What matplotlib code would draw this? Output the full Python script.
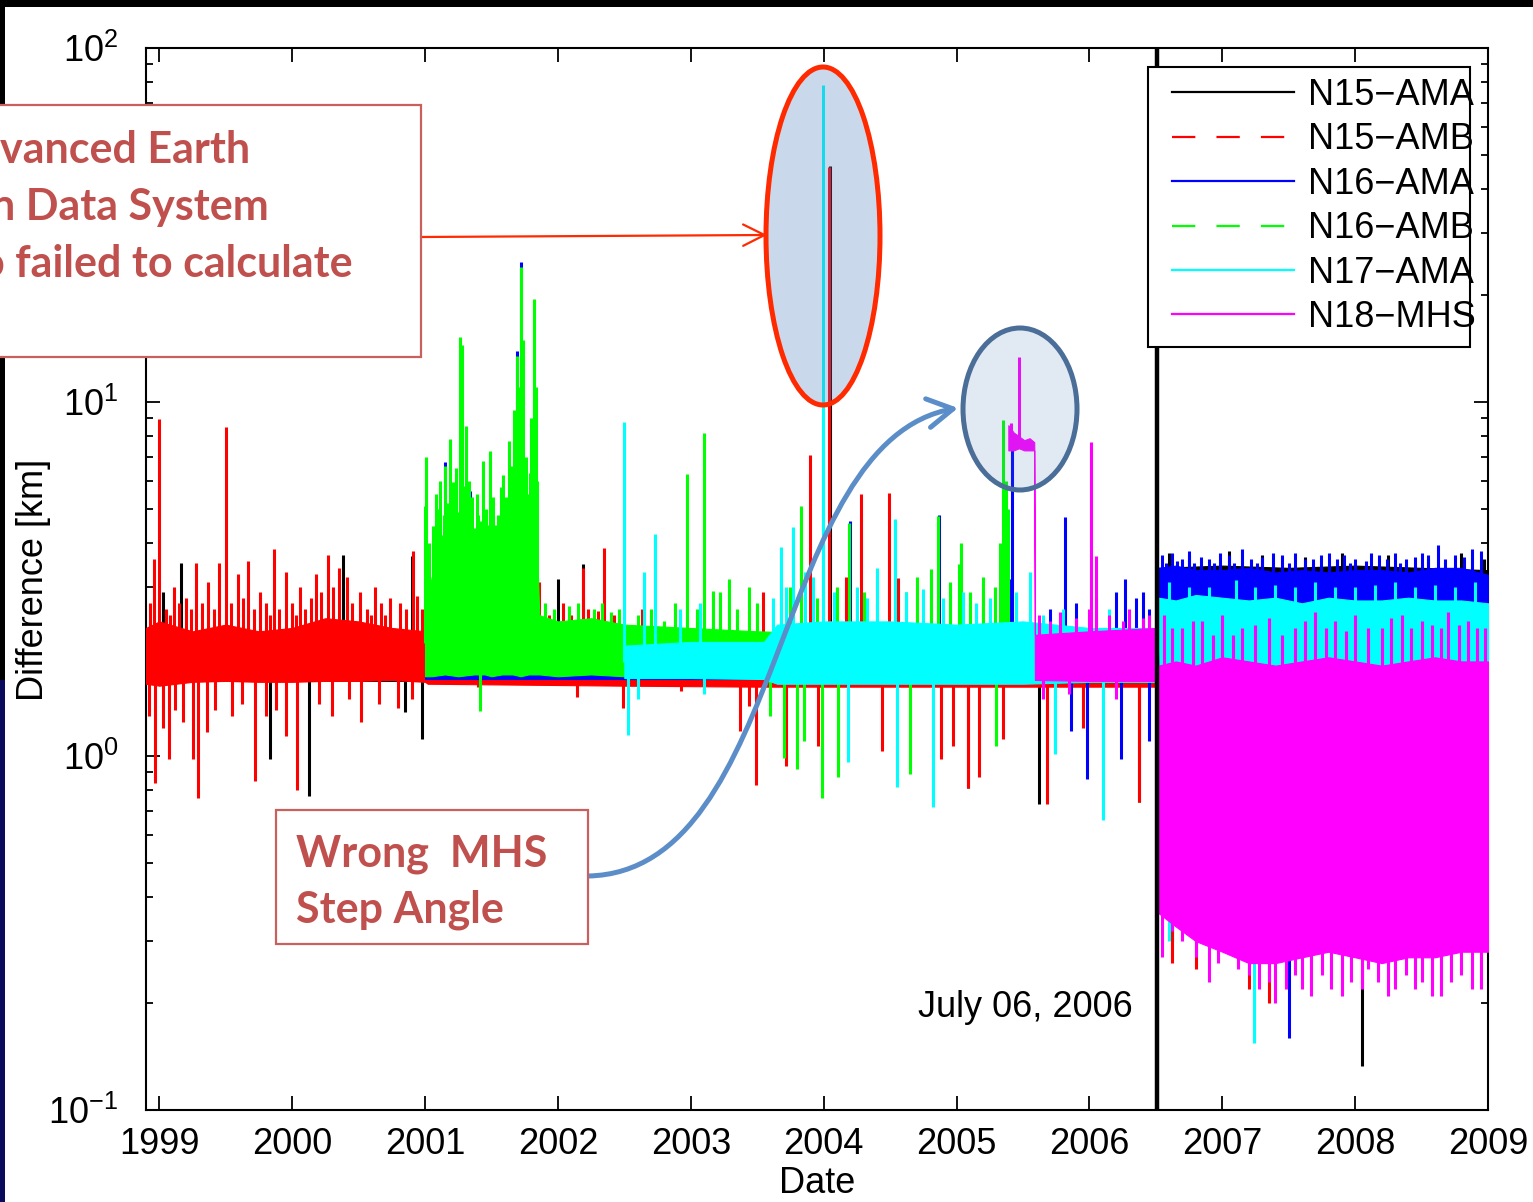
import numpy as np
import matplotlib
matplotlib.use("Agg")
import matplotlib.pyplot as plt
from matplotlib.patches import Ellipse, Rectangle, FancyArrowPatch
from matplotlib.path import Path
from matplotlib.lines import Line2D
from matplotlib.ticker import NullFormatter, LogLocator

plt.rcParams['font.family'] = ['Liberation Sans', 'DejaVu Sans']
plt.rcParams['mathtext.fontset'] = 'custom'
plt.rcParams['mathtext.rm'] = 'Liberation Sans'
plt.rcParams['mathtext.it'] = 'Liberation Sans:italic'
plt.rcParams['mathtext.bf'] = 'Liberation Sans:bold'

# ---------------- data ----------------
years = [1999, 2000, 2001, 2002, 2003, 2004, 2005, 2006, 2007, 2008, 2009]
year_labels = [str(y) for y in years]
event_date = 2006.51          # July 06, 2006
series_names = ['N15\u2212AMA', 'N15\u2212AMB', 'N16\u2212AMA', 'N16\u2212AMB', 'N17\u2212AMA', 'N18\u2212MHS']

# N15-AMA (black)
n15a_t  = [1998.90, 2006.51, 2006.52, 2007.00, 2007.50, 2008.00, 2008.50, 2009.00]
n15a_lo = [1.63, 1.63, 0.45, 0.45, 0.45, 0.45, 0.45, 0.45]
n15a_hi = [2.20, 2.20, 3.40, 3.45, 3.40, 3.45, 3.40, 3.35]
n15a_spikes = [(1999.03, 2.9), (1999.16, 3.5), (2000.38, 3.7), (2000.90, 3.67), (2002.00, 3.16),
               (2002.19, 3.48), (2004.045, 46.4), (1999.83, 0.98), (2000.13, 0.77), (2000.85, 1.33),
               (2000.98, 1.12), (2005.09, 0.81), (2005.62, 0.73), (2006.37, 0.74),
               (2006.60, 3.75), (2006.75, 3.7), (2007.05, 3.8), (2007.30, 3.7), (2007.62, 3.65),
               (2007.90, 3.75), (2008.25, 3.7), (2008.55, 3.6), (2008.80, 3.75), (2008.97, 3.6),
               (2008.05, 0.133), (2006.62, 0.30)]

# N15-AMB (red)
n15b_t  = [1998.90, 1999.00, 1999.25, 1999.50, 1999.75, 2000.00, 2000.25, 2000.50, 2000.75,
           2001.00, 2001.02, 2002.50, 2003.50, 2004.50, 2005.50, 2006.51, 2006.52, 2009.00]
n15b_lo = [1.60, 1.58, 1.62, 1.63, 1.62, 1.62, 1.63, 1.63, 1.64, 1.62, 1.60, 1.58, 1.57, 1.57,
           1.57, 1.57, 0.45, 0.45]
n15b_hi = [2.30, 2.40, 2.25, 2.35, 2.25, 2.30, 2.45, 2.40, 2.30, 2.25, 2.00, 2.00, 2.00, 2.00,
           2.00, 2.00, 2.00, 2.00]
n15b_spikes = [(1998.93, 2.7), (1998.96, 3.6), (1999.00, 8.95), (1999.05, 2.6), (1999.08, 2.5),
               (1999.11, 3.0), (1999.15, 2.7), (1999.20, 2.8), (1999.24, 2.6), (1999.28, 3.5),
               (1999.32, 2.7), (1999.37, 3.1), (1999.41, 2.6), (1999.45, 3.5), (1999.50, 8.5),
               (1999.54, 2.7), (1999.59, 3.26), (1999.63, 2.8), (1999.67, 3.55), (1999.71, 2.6),
               (1999.76, 2.9), (1999.80, 2.7), (1999.83, 2.5), (1999.86, 3.84), (1999.90, 2.6),
               (1999.95, 3.3), (2000.00, 2.7), (2000.03, 2.5), (2000.06, 3.0), (2000.10, 2.6),
               (2000.14, 2.8), (2000.18, 3.26), (2000.22, 2.9), (2000.27, 3.7), (2000.31, 3.0),
               (2000.35, 3.4), (2000.41, 3.2), (2000.45, 2.7), (2000.51, 2.9), (2000.56, 2.6),
               (2000.59, 2.5), (2000.62, 3.0), (2000.67, 2.7), (2000.70, 2.5), (2000.74, 2.8),
               (2000.81, 2.7), (2000.86, 2.6), (2000.91, 3.8), (2000.94, 2.83), (2000.98, 2.6),
               (2001.86, 3.1), (2001.93, 2.5), (2002.04, 2.7), (2002.10, 2.5), (2002.19, 3.4),
               (2002.23, 2.6), (2002.30, 2.56), (2002.35, 3.86), (2002.42, 2.5), (2002.63, 2.6),
               (2003.54, 2.9), (2003.90, 7.07), (2004.04, 46.0), (2004.17, 3.2), (2004.28, 5.5),
               (2004.49, 5.55), (2004.56, 3.18), (2004.70, 2.8), (2005.20, 2.9),
               (1998.92, 1.3), (1998.97, 0.84), (1999.03, 1.2), (1999.07, 0.98), (1999.12, 1.35),
               (1999.18, 1.25), (1999.25, 0.98), (1999.29, 0.76), (1999.36, 1.17), (1999.42, 1.35),
               (1999.55, 1.3), (1999.62, 1.4), (1999.72, 0.85), (1999.80, 1.3), (1999.88, 1.35),
               (1999.95, 1.14), (2000.04, 0.8), (2000.20, 1.4), (2000.30, 1.3), (2000.43, 1.45),
               (2000.52, 1.25), (2000.65, 1.4), (2000.80, 1.37), (2000.90, 1.45), (2001.40, 1.57),
               (2002.14, 1.47), (2002.49, 1.37), (2002.93, 1.53), (2003.37, 1.18), (2003.44, 1.38),
               (2003.49, 0.83), (2003.72, 0.94), (2003.96, 1.07), (2004.44, 1.03), (2004.88, 0.98),
               (2004.97, 1.07), (2005.09, 0.81), (2005.17, 0.87), (2005.35, 1.12), (2005.68, 0.73),
               (2005.95, 1.2), (2006.37, 0.74), (2006.62, 0.26), (2006.80, 0.25), (2007.20, 0.22),
               (2007.35, 0.20)]

# N16-AMA (blue)
n16a_t  = [2001.00, 2006.51, 2006.52, 2006.65, 2006.80, 2007.00, 2007.20, 2007.40, 2007.60,
           2007.80, 2008.00, 2008.20, 2008.40, 2008.60, 2008.80, 2009.00]
n16a_lo = [1.65, 1.65, 0.45, 0.45, 0.45, 0.45, 0.45, 0.45, 0.45, 0.45, 0.45, 0.45, 0.45, 0.45,
           0.45, 0.45]
n16a_hi = [2.00, 2.00, 3.40, 3.45, 3.35, 3.35, 3.40, 3.30, 3.35, 3.30, 3.35, 3.35, 3.30, 3.40,
           3.40, 3.25]
n16a_spikes = [(2001.15, 6.75), (2001.34, 5.6), (2001.69, 13.9), (2001.725, 24.8), (2004.20, 4.6),
               (2004.865, 4.8), (2005.40, 3.16), (2005.42, 7.4), (2005.82, 4.73), (2005.70, 2.6),
               (2005.90, 2.7), (2006.05, 2.8), (2006.20, 2.9), (2006.27, 3.16), (2006.35, 2.8),
               (2006.40, 2.9), (2006.45, 2.6),
               (2005.86, 1.18), (2005.98, 0.86), (2006.24, 0.98), (2006.45, 1.1), (2007.50, 0.16),
               (2006.55, 3.7), (2006.58, 3.5), (2006.62, 3.75), (2006.66, 3.55), (2006.70, 3.6),
               (2006.75, 3.8), (2006.79, 3.5), (2006.84, 3.65), (2006.90, 3.6), (2006.94, 3.5),
               (2006.98, 3.75), (2007.05, 3.7), (2007.09, 3.5), (2007.15, 3.85), (2007.22, 3.6),
               (2007.26, 3.5), (2007.30, 3.65), (2007.38, 3.75), (2007.45, 3.7), (2007.50, 3.5),
               (2007.55, 3.75), (2007.62, 3.6), (2007.68, 3.6), (2007.74, 3.7), (2007.80, 3.75),
               (2007.86, 3.6), (2007.92, 3.7), (2007.96, 3.5), (2008.00, 3.6), (2008.08, 3.55),
               (2008.12, 3.75), (2008.18, 3.7), (2008.24, 3.6), (2008.30, 3.75), (2008.34, 3.5),
               (2008.38, 3.6), (2008.45, 3.65), (2008.50, 3.75), (2008.55, 3.7), (2008.62, 3.95),
               (2008.68, 3.6), (2008.75, 3.7), (2008.82, 3.65), (2008.88, 3.85), (2008.95, 3.8)]

# N16-AMB (green)
n16b_t  = [2001.00, 2001.05, 2001.15, 2001.25, 2001.37, 2001.45, 2001.50, 2001.58, 2001.66,
           2001.72, 2001.78, 2001.83, 2001.86, 2002.00, 2002.25, 2002.50, 2003.50, 2004.50,
           2005.50, 2006.51]
n16b_lo = [1.68, 1.68, 1.70, 1.68, 1.70, 1.70, 1.68, 1.70, 1.70, 1.68, 1.70, 1.70, 1.70, 1.68,
           1.70, 1.68, 1.66, 1.66, 1.66, 1.66]
n16b_hi = [2.6, 3.2, 4.0, 4.3, 3.6, 3.2, 3.9, 3.7, 4.6, 5.6, 4.2, 5.2, 2.5, 2.4, 2.45, 2.35,
           2.25, 2.2, 2.2, 2.2]
n16b_spikes = [(2001.00, 5.1), (2001.01, 7.0), (2001.03, 4.0), (2001.06, 4.46), (2001.08, 5.5),
               (2001.09, 5.0), (2001.11, 6.0), (2001.12, 4.2), (2001.14, 4.8), (2001.15, 6.6),
               (2001.17, 5.2), (2001.19, 7.85), (2001.21, 5.94), (2001.23, 6.5), (2001.24, 4.9),
               (2001.26, 15.3), (2001.28, 14.5), (2001.30, 5.8), (2001.31, 8.55), (2001.33, 6.0),
               (2001.35, 5.4), (2001.37, 4.4), (2001.39, 5.5), (2001.40, 4.8), (2001.42, 4.6),
               (2001.44, 6.8), (2001.46, 5.0), (2001.48, 4.5), (2001.49, 7.25), (2001.51, 5.4),
               (2001.53, 4.5), (2001.55, 4.8), (2001.57, 5.75), (2001.59, 6.2), (2001.61, 5.4),
               (2001.63, 7.75), (2001.65, 6.6), (2001.67, 9.5), (2001.69, 13.5), (2001.70, 8.0),
               (2001.71, 11.0), (2001.72, 24.0), (2001.74, 15.0), (2001.76, 7.0), (2001.78, 5.5),
               (2001.79, 6.3), (2001.80, 9.0), (2001.81, 7.5), (2001.82, 19.5), (2001.835, 11.0),
               (2001.845, 6.0),
               (2001.90, 2.7), (2001.97, 2.6), (2002.08, 2.65), (2002.15, 2.7), (2002.27, 2.6),
               (2002.33, 2.7), (2002.40, 2.55), (2002.46, 2.6), (2002.60, 2.5), (2002.70, 2.6),
               (2002.80, 2.4), (2002.88, 2.7), (2002.97, 6.25), (2003.05, 2.6), (2003.10, 8.2),
               (2003.17, 2.92), (2003.22, 2.9), (2003.29, 3.16), (2003.35, 2.6), (2003.44, 3.0),
               (2003.50, 2.7), (2003.68, 3.16), (2003.75, 3.0), (2003.83, 5.08), (2003.95, 2.8),
               (2004.10, 3.0), (2004.19, 4.55), (2004.30, 2.9), (2004.40, 3.1), (2004.62, 2.9),
               (2004.70, 3.2), (2004.81, 3.37), (2004.86, 4.75), (2004.95, 3.1), (2005.02, 3.48),
               (2005.03, 4.0), (2005.10, 2.9), (2005.20, 3.2), (2005.29, 3.0), (2005.33, 4.0),
               (2005.35, 8.9), (2005.37, 6.0), (2005.39, 5.0),
               (2001.41, 1.34), (2003.60, 1.3), (2003.70, 0.99), (2003.80, 0.92), (2003.85, 1.1),
               (2003.99, 0.76), (2004.11, 0.87), (2004.65, 0.89), (2005.30, 1.07)]

# N17-AMA (cyan)
n17a_t  = [2002.50, 2003.00, 2003.55, 2003.65, 2004.00, 2004.50, 2005.00, 2005.50, 2006.00,
           2006.51, 2006.52, 2006.65, 2006.80, 2007.00, 2007.20, 2007.40, 2007.60, 2007.80,
           2008.00, 2008.20, 2008.40, 2008.60, 2008.80, 2009.00]
n17a_lo = [1.66, 1.66, 1.65, 1.60, 1.60, 1.60, 1.60, 1.60, 1.62, 1.62, 0.40, 0.40, 0.40, 0.40,
           0.40, 0.40, 0.40, 0.40, 0.40, 0.40, 0.40, 0.40, 0.40, 0.40]
n17a_hi = [2.05, 2.10, 2.10, 2.35, 2.40, 2.40, 2.35, 2.40, 2.30, 2.30, 2.80, 2.75, 2.85, 2.80,
           2.75, 2.80, 2.70, 2.80, 2.75, 2.75, 2.80, 2.75, 2.75, 2.70]
n17a_spikes = [(2002.50, 8.8), (2002.65, 3.3), (2002.73, 4.23), (2002.92, 2.6), (2003.07, 2.7),
               (2003.62, 2.8), (2003.68, 3.9), (2003.72, 3.0), (2003.77, 4.43), (2003.86, 3.3),
               (2003.92, 3.2), (2003.995, 78.8), (2004.08, 2.9), (2004.25, 3.0), (2004.33, 2.8),
               (2004.40, 3.4), (2004.54, 4.67), (2004.62, 2.9), (2004.75, 2.96), (2004.90, 2.8),
               (2005.05, 2.9), (2005.15, 2.7), (2005.25, 2.8), (2005.45, 2.9), (2005.55, 3.3),
               (2005.65, 2.5), (2005.80, 2.6), (2006.15, 2.6), (2006.30, 2.5),
               (2006.60, 3.1), (2006.75, 3.0), (2006.90, 3.0), (2007.10, 3.15), (2007.25, 3.0),
               (2007.40, 3.05), (2007.55, 3.0), (2007.70, 3.1), (2007.85, 3.0), (2008.00, 3.0),
               (2008.15, 3.05), (2008.30, 3.1), (2008.45, 3.0), (2008.60, 3.05), (2008.75, 3.0),
               (2008.90, 3.1),
               (2002.53, 1.15), (2002.60, 1.45), (2003.10, 1.5), (2004.18, 0.96), (2004.55, 0.82),
               (2004.82, 0.72), (2005.74, 1.01), (2006.10, 0.66), (2006.60, 0.30), (2006.70, 0.33),
               (2007.24, 0.155)]

# N18-MHS (magenta)
n18_t  = [2005.39, 2005.43, 2005.47, 2005.51, 2005.55, 2005.585, 2005.59, 2006.00, 2006.51,
          2006.52, 2006.65, 2006.80, 2007.00, 2007.20, 2007.40, 2007.60, 2007.80, 2008.00,
          2008.20, 2008.40, 2008.60, 2008.80, 2009.00]
n18_lo = [7.3, 7.3, 7.4, 7.3, 7.3, 7.3, 1.64, 1.63, 1.63, 0.36, 0.33, 0.30, 0.28, 0.26, 0.26,
          0.27, 0.28, 0.27, 0.26, 0.27, 0.27, 0.28, 0.28]
n18_hi = [8.6, 8.2, 8.0, 7.8, 7.9, 7.7, 2.20, 2.25, 2.30, 1.80, 1.85, 1.80, 1.90, 1.85, 1.80,
          1.85, 1.90, 1.85, 1.80, 1.85, 1.90, 1.85, 1.85]
n18_spikes = [(2005.41, 8.7), (2005.47, 13.4), (2006.01, 7.7), (2006.05, 3.67), (2005.62, 2.5),
              (2005.70, 2.4), (2005.78, 2.55), (2005.90, 2.45), (2006.00, 2.6), (2006.15, 2.5),
              (2006.25, 2.4), (2006.30, 2.6), (2006.40, 2.45), (2006.45, 2.5),
              (2005.65, 1.45), (2005.85, 1.5), (2006.20, 1.45),
              (2006.56, 2.5), (2006.62, 2.3), (2006.70, 2.3), (2006.78, 2.4), (2006.85, 2.4),
              (2006.93, 2.2), (2007.00, 2.5), (2007.08, 2.2), (2007.15, 2.3), (2007.25, 2.35),
              (2007.35, 2.45), (2007.45, 2.2), (2007.55, 2.3), (2007.62, 2.4), (2007.70, 2.55),
              (2007.78, 2.3), (2007.85, 2.4), (2007.93, 2.25), (2008.00, 2.5), (2008.10, 2.3),
              (2008.20, 2.3), (2008.27, 2.45), (2008.35, 2.5), (2008.42, 2.3), (2008.50, 2.4),
              (2008.58, 2.35), (2008.65, 2.3), (2008.70, 2.55), (2008.78, 2.35), (2008.85, 2.4),
              (2008.92, 2.3), (2008.98, 2.3),
              (2006.55, 0.27), (2006.62, 0.32), (2006.70, 0.30), (2006.80, 0.27), (2006.90, 0.23),
              (2006.97, 0.26), (2007.05, 0.28), (2007.12, 0.25), (2007.20, 0.24), (2007.28, 0.22),
              (2007.35, 0.23), (2007.40, 0.20), (2007.48, 0.22), (2007.55, 0.24), (2007.60, 0.22),
              (2007.67, 0.21), (2007.75, 0.24), (2007.82, 0.22), (2007.90, 0.21), (2007.97, 0.23),
              (2008.05, 0.22), (2008.10, 0.25), (2008.17, 0.23), (2008.25, 0.21), (2008.30, 0.22),
              (2008.38, 0.24), (2008.45, 0.22), (2008.50, 0.23), (2008.58, 0.21), (2008.65, 0.21),
              (2008.72, 0.23), (2008.80, 0.24), (2008.88, 0.22), (2008.95, 0.22)]

colors = ['#000000', '#ff0000', '#0000ff', '#00ff00', '#00ffff', '#ff00ff']
dashed = [False, True, False, True, False, False]

# ---------------- figure ----------------
W, H = 1533, 1202
fig = plt.figure(figsize=(W / 100, H / 100), dpi=100)
fig.patch.set_facecolor('white')


def fx(x):
    return x / W


def fy(y):
    return 1 - y / H


ax = fig.add_axes([fx(146), fy(1110), (1488 - 146) / W, (1110 - 48) / H])
ax.set_yscale('log')
ax.set_xlim(1998.90, 2009.0)
ax.set_ylim(0.1, 100)

bands = [(n15a_t, n15a_lo, n15a_hi, n15a_spikes),
         (n15b_t, n15b_lo, n15b_hi, n15b_spikes),
         (n16a_t, n16a_lo, n16a_hi, n16a_spikes),
         (n16b_t, n16b_lo, n16b_hi, n16b_spikes),
         (n17a_t, n17a_lo, n17a_hi, n17a_spikes),
         (n18_t, n18_lo, n18_hi, n18_spikes)]

for i, (t, lo, hi, spk) in enumerate(bands):
    z = 2 + i
    ax.fill_between(t, lo, hi, facecolor=colors[i], edgecolor=colors[i], lw=0.8, zorder=z)
    st = np.array([p[0] for p in spk])
    sv = np.array([p[1] for p in spk])
    blo = np.interp(st, t, lo)
    bhi = np.interp(st, t, hi)
    base = np.sqrt(blo * bhi)
    ax.vlines(st, base, sv, colors=colors[i], lw=2.2, zorder=z)

ax.axvline(event_date, color='black', lw=3.2, zorder=9)

# axes styling
for s in ax.spines.values():
    s.set_linewidth(1.5)
ax.set_xticks(years)
ax.set_xticklabels(year_labels, fontsize=26)
ax.yaxis.set_major_locator(LogLocator(base=10, numticks=10))
ax.yaxis.set_minor_locator(LogLocator(base=10, subs=np.arange(2, 10), numticks=20))
ax.yaxis.set_minor_formatter(NullFormatter())
ax.tick_params(axis='both', which='major', direction='in', length=10, width=1.3,
               top=True, right=True, labelsize=26)
ax.tick_params(axis='y', which='minor', direction='in', length=5, width=1.3, left=True, right=True)
ax.tick_params(axis='x', which='major', pad=12)
ax.tick_params(axis='y', which='major', pad=20)
ax.set_xlabel('Date', fontsize=26, labelpad=3)

# legend: white box drawn as in the reference, entries placed on it
ax.add_patch(Rectangle((fx(1148), fy(347)), (1470 - 1148) / W, (347 - 67) / H,
                       transform=fig.transFigure, facecolor='white', edgecolor='black',
                       lw=1.5, zorder=19, clip_on=False))
handles = []
for c, d in zip(colors, dashed):
    if d:
        handles.append(Line2D([], [], color=c, lw=1.6, linestyle=(0, (10.5, 9.5))))
    else:
        handles.append(Line2D([], [], color=c, lw=1.6))
leg = ax.legend(handles, series_names, loc='upper left',
                bbox_to_anchor=(fx(1172), fy(78)), bbox_transform=fig.transFigure,
                borderaxespad=0, borderpad=0, fontsize=26, handlelength=3.38,
                handletextpad=0.38, labelspacing=0.26, frameon=False)
leg.set_zorder(20)

# ---------------- annotations (figure level) ----------------
fig.text(fx(43), fy(580), 'Difference [km]', fontsize=26, rotation=90,
         rotation_mode='anchor', ha='center', va='baseline')

# slide edge strips
fig.add_artist(Rectangle((0, fy(7)), 1, 7 / H, transform=fig.transFigure,
                         facecolor='black', edgecolor='none', zorder=5))
fig.add_artist(Rectangle((0, fy(680)), 5 / W, 680 / H, transform=fig.transFigure,
                         facecolor='black', edgecolor='none', zorder=5))
fig.add_artist(Rectangle((0, 0), 5 / W, fy(680), transform=fig.transFigure,
                         facecolor='#0b0b5c', edgecolor='none', zorder=5))

# ellipses
fig.add_artist(Ellipse((fx(823), fy(236)), 114 / W, 338 / H, transform=fig.transFigure,
                       facecolor=(0.31, 0.51, 0.74, 0.30), edgecolor='#ff2a00', lw=3.6, zorder=10))
fig.add_artist(Ellipse((fx(1020), fy(409)), 114 / W, 162 / H, transform=fig.transFigure,
                       facecolor=(0.31, 0.51, 0.74, 0.17), edgecolor='#4a6e98', lw=3.6, zorder=10))

# text box 1
fig.add_artist(Rectangle((fx(-10), fy(357)), 431 / W, (357 - 105) / H, transform=fig.transFigure,
                         facecolor='white', edgecolor='#c9605d', lw=1.6, zorder=12))
tkw = dict(fontsize=31, fontweight='bold', color='#c0504d', family=['Lato', 'DejaVu Sans'],
           va='baseline', ha='left', zorder=13)
fig.text(fx(0), fy(163), 'vanced Earth', **tkw)
fig.text(fx(-9), fy(220), 'n Data System', **tkw)
fig.text(fx(-20), fy(277), 'o failed to calculate', **tkw)

# red arrow
fig.add_artist(FancyArrowPatch((fx(421), fy(237)), (fx(767), fy(235)), transform=fig.transFigure,
                               arrowstyle='->,head_length=0.7,head_width=0.35', mutation_scale=22,
                               color='#ff2a00', lw=1.6, shrinkA=0, shrinkB=0, zorder=11))

# text box 2
fig.add_artist(Rectangle((fx(276), fy(944)), (588 - 276) / W, (944 - 810) / H,
                         transform=fig.transFigure, facecolor='white', edgecolor='#c9605d',
                         lw=1.6, zorder=12))
fig.text(fx(296), fy(867), 'Wrong  MHS', **tkw)
fig.text(fx(296), fy(923), 'Step Angle', **tkw)

# blue curved arrow
curve = Path([(fx(588), fy(876)), (fx(790), fy(872)), (fx(770), fy(440)), (fx(958), fy(408))],
             [Path.MOVETO, Path.CURVE4, Path.CURVE4, Path.CURVE4])
fig.add_artist(FancyArrowPatch(path=curve, transform=fig.transFigure,
                               arrowstyle='->,head_length=0.7,head_width=0.4', mutation_scale=26,
                               color='#5b8ec8', lw=3.6, zorder=11))

fig.text(fx(1133), fy(1017), 'July 06, 2006', fontsize=26, ha='right', va='baseline', zorder=13)

fig.savefig('out.png', dpi=100)
